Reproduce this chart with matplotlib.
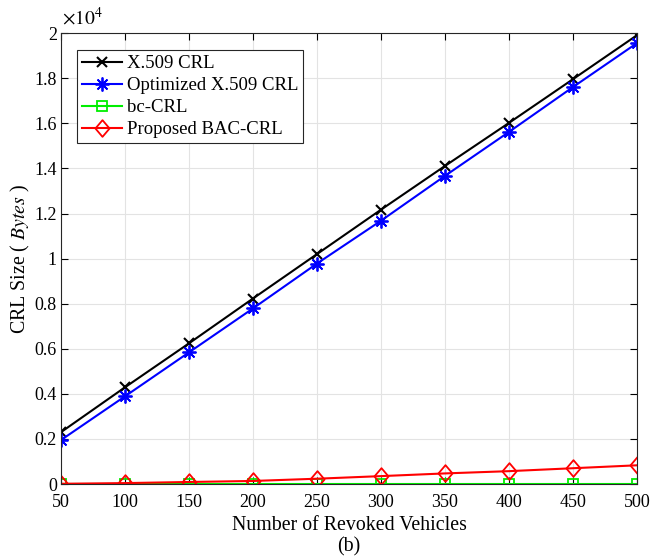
import numpy as np
import matplotlib
matplotlib.use("Agg")
import matplotlib.pyplot as plt
from matplotlib.ticker import FuncFormatter
from matplotlib.path import Path

plt.rcParams['font.family'] = ['Liberation Serif', 'DejaVu Serif']
plt.rcParams['mathtext.fontset'] = 'stix'

# データ
vehicles = [50, 100, 150, 200, 250, 300, 350, 400, 450, 500]
x509 = [2300, 4290, 6240, 8230, 10200, 12170, 14110, 16020, 17960, 19910]
opt_x509 = [1950, 3890, 5840, 7790, 9780, 11680, 13670, 15620, 17610, 19560]
bc_crl = [2, 2, 2, 2, 2, 2, 2, 2, 2, 2]
bac_crl = [10, 40, 90, 135, 235, 350, 470, 570, 700, 830]

# MATLAB風のひし形マーカー(少し縦長)
diamond = Path([(0, 1), (0.85, 0), (0, -1), (-0.85, 0), (0, 1)],
               [Path.MOVETO, Path.LINETO, Path.LINETO, Path.LINETO, Path.CLOSEPOLY])

fig = plt.figure(figsize=(6.53, 5.6), dpi=100)
ax = fig.add_axes([0.0934, 0.1357, 0.882, 0.805])

ax.plot(vehicles, x509, color='black', marker='x', markersize=7.5, lw=1.5,
        mew=1.5, label='X.509 CRL')
ax.plot(vehicles, opt_x509, color='blue', marker=(8, 2, 0), markersize=10,
        lw=1.5, mew=1.3, label='Optimized X.509 CRL')
ax.plot(vehicles, bc_crl, color='#00ee00', marker='s', markersize=7.5, lw=1.5,
        mew=1.3, fillstyle='none', label='bc-CRL')
ax.plot(vehicles, bac_crl, color='red', marker=diamond, markersize=12, lw=1.5,
        mew=1.3, fillstyle='none', label='Proposed BAC-CRL')

ax.set_xlim(50, 500)
ax.set_ylim(0, 20000)
ax.set_xticks(vehicles)
ax.set_yticks(np.arange(0, 20001, 2000))
ax.yaxis.set_major_formatter(FuncFormatter(lambda v, p: '%g' % (v / 1e4)))
ax.text(0.002, 1.01, r'$\times10^4$', transform=ax.transAxes, fontsize=14,
        ha='left', va='bottom')

ax.grid(True, color='#e3e3e3', lw=0.8)
ax.tick_params(direction='in', top=True, right=True, labelsize=13, length=5)
ax.tick_params(axis='y', pad=3)
ax.tick_params(axis='x', pad=7)
for s in ax.spines.values():
    s.set_color('#262626')
    s.set_linewidth(0.8)

ax.set_xlabel('Number of Revoked Vehicles\n(b)', fontsize=14.3, linespacing=1.12,
              labelpad=4)
ax.set_ylabel(r'CRL Size ( $\mathit{Bytes}$ )', fontsize=14.3, labelpad=2)

leg = ax.legend(loc='upper left', bbox_to_anchor=(0.028, 0.962), fontsize=13.5,
                fancybox=False, edgecolor='#262626', framealpha=1,
                borderpad=0.25, labelspacing=0.26, handlelength=2.15,
                handletextpad=0.27, borderaxespad=0)
leg.get_frame().set_linewidth(0.8)

fig.savefig('out.png', dpi=100)
